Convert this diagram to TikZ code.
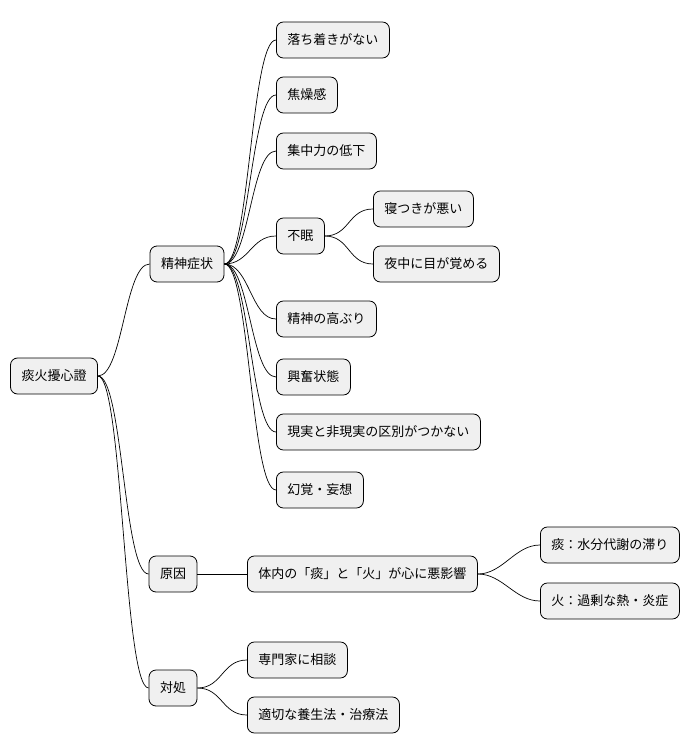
\documentclass[tikz,border=0pt]{standalone}
\usepackage{fontspec}
\setmainfont{Noto Sans CJK JP}
\begin{document}
\begin{tikzpicture}[x=1pt,y=-1pt,
  box/.style={draw=black,fill=black!6,rounded corners=7pt,minimum height=36pt,inner xsep=11pt,font=\fontsize{13pt}{15pt}\selectfont,line width=0.8pt},
  link/.style={line width=0.7pt}]
\useasboundingbox (0,0) rectangle (698,752);
\node[box] (r) at (54,376) {痰火擾心證};
\node[box] (a) at (187,264) {精神症状};
\node[box] (b) at (173,574) {原因};
\node[box] (c) at (173,688) {対処};
\node[box,anchor=west] (a1) at (276,40) {落ち着きがない};
\node[box,anchor=west] (a2) at (276,95) {焦燥感};
\node[box,anchor=west] (a3) at (276,151) {集中力の低下};
\node[box,anchor=west] (a4) at (276,236) {不眠};
\node[box,anchor=west] (a41) at (373,209) {寝つきが悪い};
\node[box,anchor=west] (a42) at (373,264) {夜中に目が覚める};
\node[box,anchor=west] (a5) at (276,319) {精神の高ぶり};
\node[box,anchor=west] (a6) at (276,377) {興奮状態};
\node[box,anchor=west] (a7) at (276,432) {現実と非現実の区別がつかない};
\node[box,anchor=west] (a8) at (276,490) {幻覚・妄想};
\node[box,anchor=west] (b1) at (247,574) {体内の「痰」と「火」が心に悪影響};
\node[box,anchor=west] (b11) at (540,545) {痰：水分代謝の滞り};
\node[box,anchor=west] (b12) at (540,601) {火：過剰な熱・炎症};
\node[box,anchor=west] (c1) at (247,660) {専門家に相談};
\node[box,anchor=west] (c2) at (247,715) {適切な養生法・治療法};
\foreach \p/\c in {r/a,r/b,r/c,a/a1,a/a2,a/a3,a/a4,a/a5,a/a6,a/a7,a/a8,a4/a41,a4/a42,b/b1,b1/b11,b1/b12,c/c1,c/c2}
  \draw[link] (\p.east) .. controls ([xshift=25pt]\p.east) and ([xshift=-25pt]\c.west) .. (\c.west);
\end{tikzpicture}
\end{document}
